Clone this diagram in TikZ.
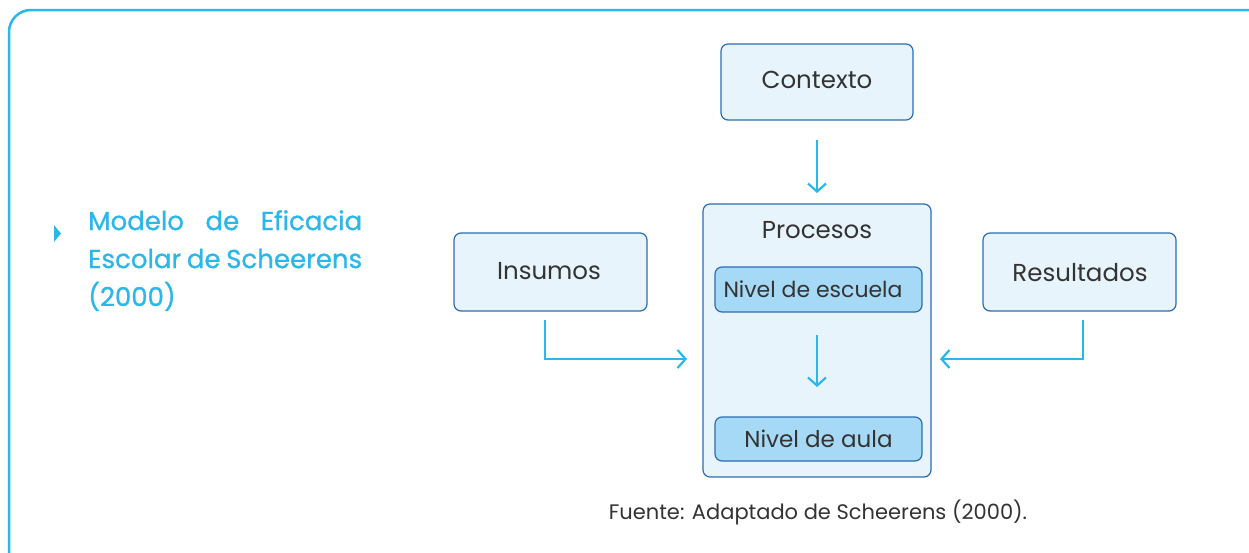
\documentclass[tikz,border=0pt]{standalone}
\usepackage{fontspec}
\setmainfont{Poppins}
\newfontfamily\titlefont{Poppins}[FakeBold=0.9]
\usetikzlibrary{arrows.meta}
\definecolor{cyanline}{HTML}{2BB7EA}
\definecolor{boxfill}{HTML}{E8F4FB}
\definecolor{boxdraw}{HTML}{2A6DB0}
\definecolor{innerfill}{HTML}{A6D9F5}
\definecolor{txt}{HTML}{333333}
\tikzset{
  x=1pt, y=-1pt,
  outerbox/.style={draw=boxdraw, fill=boxfill, line width=1.2pt, rounded corners=7pt, text=txt},
  innerbox/.style={draw=boxdraw, fill=innerfill, line width=1.2pt, rounded corners=7pt, text=txt, font=\fontsize{22}{26}\selectfont},
  flow/.style={draw=cyanline, line width=2.2pt, -{Straight Barb[length=8pt,width=18pt,line width=2.2pt]}},
  boxtxt/.style={text=txt, font=\fontsize{24.5}{30}\selectfont},
}
\begin{document}
\begin{tikzpicture}
\useasboundingbox (0,0) rectangle (1249,552);
\draw[cyanline, line width=2.5pt, rounded corners=22pt] (9,10) rectangle (1290,600);
% title
\fill[cyanline] (54,225) -- (61,233.5) -- (54,242) -- cycle;
\node[anchor=north west, text width=274pt, align=justify, inner sep=0pt, text=cyanline, font=\titlefont\fontsize{26}{38}\selectfont] (title) at (88,210) {Modelo de Eficacia Escolar de Scheerens (2000)};
% boxes
\path[outerbox] (721,44) rectangle (913,120);
\node[boxtxt] (contexto) at (817,80) {Contexto};
\path[outerbox] (454,233) rectangle (647,311);
\node[boxtxt] (insumos) at (549,271) {Insumos};
\path[outerbox] (983,233) rectangle (1176,311);
\node[boxtxt] (resultados) at (1080,273) {Resultados};
\path[outerbox] (703,204) rectangle (931,477);
\node[boxtxt] (procesos) at (817,230) {Procesos};
\node[innerbox, minimum width=207pt, minimum height=45pt, inner sep=0pt] (escuela) at (818.5,289.5) {};
\node[text=txt, font=\fontsize{22}{26}\selectfont] (escuelatxt) at (813,289.5) {Nivel de escuela};
\node[innerbox, minimum width=207pt, minimum height=44pt, inner sep=0pt, font=\fontsize{23}{26}\selectfont] (aula) at (818.5,439) {Nivel de aula};
% arrows
\coordinate (c1) at (817,140);
\coordinate (c2) at (817,193);
\draw[flow] (c1) -- (c2);
\coordinate (e1) at (817,335);
\coordinate (e2) at (817,387);
\draw[flow] (e1) -- (e2);
\coordinate (i1) at (545,320);
\coordinate (i2) at (687,359);
\draw[flow] (i1) |- (i2);
\coordinate (r1) at (1083,320);
\coordinate (r2) at (940,359);
\draw[flow] (r1) |- (r2);
% source
\node[text=txt, font=\fontsize{21}{24}\selectfont] (fuente) at (818,512) {Fuente: Adaptado de Scheerens (2000).};
\end{tikzpicture}
\end{document}
